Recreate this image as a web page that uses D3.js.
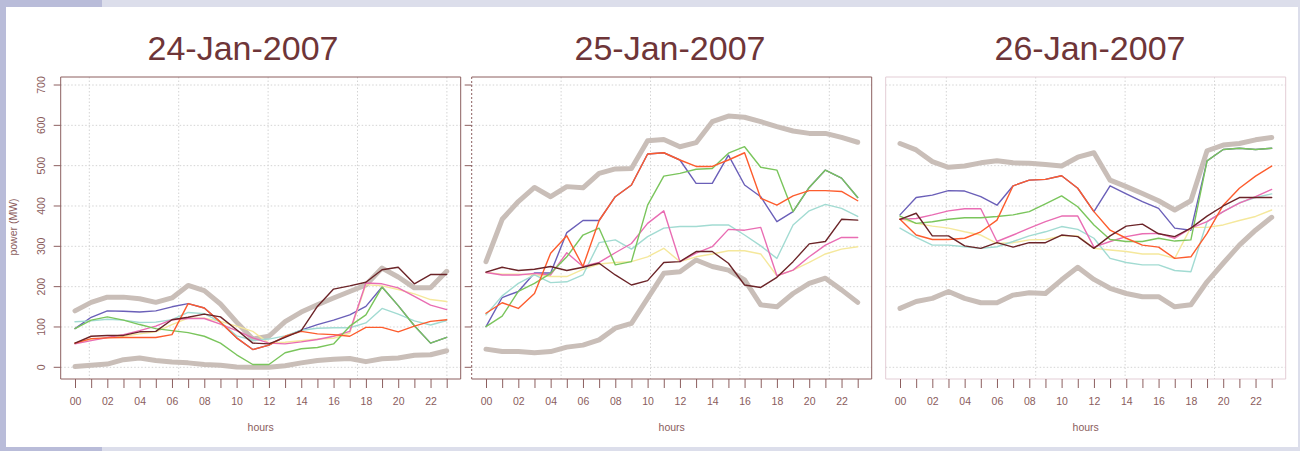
<!DOCTYPE html>
<html>
<head>
<meta charset="utf-8">
<script src="https://cdn.jsdelivr.net/npm/d3@7"></script>
<style>
  body { margin: 0; background: #dcdeeb; }
  svg { display: block; font-family: "Liberation Sans", Arial, sans-serif; }
</style>
</head>
<body>
<svg width="1300" height="451"></svg>
<script>
// hours of the day and labels
var hours = [0,1,2,3,4,5,6,7,8,9,10,11,12,13,14,15,16,17,18,19,20,21,22,23];
var hourLabels = ["00","02","04","06","08","10","12","14","16","18","20","22"];
var powerTicks = [0,100,200,300,400,500,600,700];
var days = ["24-Jan-2007", "25-Jan-2007", "26-Jan-2007"];

// 24-Jan-2007
var high24   = [140,161,174,174,170,161,172,203,190,157,112,70,77,113,137,155,172,188,204,246,224,197,197,238];
var low24    = [2,5,8,19,23,17,13,11,7,5,1,0,0,4,11,17,20,22,14,21,23,30,31,41];
var blue24   = [96,124,140,139,137,140,150,158,147,112,73,44,55,76,92,106,117,130,151,199,153,103,60,74];
var yellow24 = [60,69,73,77,83,88,106,122,122,114,102,89,60,62,66,70,72,85,205,202,193,182,168,163];
var cyan24   = [113,115,119,117,111,112,118,136,133,112,78,67,70,78,92,97,98,98,110,146,132,115,105,116];
var pink24   = [58,66,74,81,91,102,118,121,121,107,91,73,60,58,63,69,77,89,209,207,197,176,154,143];
var green24  = [96,117,125,117,106,96,91,86,77,60,31,7,7,36,46,49,58,102,130,199,153,103,60,74];
var orange24 = [60,71,73,74,74,74,81,158,147,112,73,44,55,77,89,83,81,77,99,99,88,102,114,118];
var dark24   = [60,77,79,79,88,89,118,124,132,125,93,60,58,74,91,151,194,202,211,242,248,207,230,230];

// 25-Jan-2007
var high25   = [262,367,411,446,423,448,445,481,492,493,562,565,547,557,609,623,620,609,597,586,580,580,570,558];
var low25    = [45,39,39,36,39,50,55,68,97,109,171,233,237,266,250,241,217,155,150,183,208,221,192,161];
var blue25   = [101,173,188,234,234,334,364,364,423,452,529,532,514,456,456,526,452,423,361,386,446,489,469,421];
var yellow25 = [235,231,231,229,225,225,243,256,260,262,274,295,262,274,281,289,289,281,227,241,260,281,293,299];
var cyan25   = [130,177,208,229,210,212,229,309,316,293,324,345,349,349,353,353,328,301,270,353,388,404,394,374];
var pink25   = [235,229,229,233,229,284,250,260,284,307,357,388,262,283,299,342,340,347,227,241,274,303,322,322];
var green25  = [101,127,188,208,233,274,328,345,254,262,402,474,481,491,493,531,547,496,489,386,446,489,469,421];
var orange25 = [134,160,146,183,283,326,250,364,423,452,529,532,514,498,498,514,532,419,402,425,438,438,436,413];
var dark25   = [236,248,240,243,250,240,248,258,229,204,215,260,262,287,287,258,204,198,223,262,306,312,367,365];

// 26-Jan-2007
var high26   = [555,539,510,496,499,507,512,507,506,503,499,521,532,464,448,431,413,390,413,537,551,555,564,570];
var low26    = [146,163,171,188,171,160,160,179,185,183,217,248,218,196,183,175,175,150,155,212,258,303,340,372];
var blue26   = [378,421,427,438,437,423,402,450,464,466,475,444,386,450,430,411,394,345,340,512,540,543,540,543];
var yellow26 = [369,357,350,345,336,328,307,309,316,317,326,326,295,291,287,281,281,270,347,347,353,364,374,390];
var cyan26   = [345,322,303,303,299,295,299,312,326,336,349,342,320,270,260,254,254,240,237,361,386,408,421,430];
var pink26   = [367,369,378,388,393,393,312,328,345,361,375,375,298,312,324,331,332,320,345,361,386,407,423,441];
var green26  = [375,357,361,367,371,371,374,378,386,405,425,398,353,317,312,312,320,313,316,512,540,543,540,543];
var orange26 = [367,328,317,317,320,336,365,450,464,466,475,444,386,340,320,303,298,270,274,332,402,444,474,499];
var dark26   = [367,382,326,326,301,295,309,298,309,309,328,324,295,326,350,355,331,324,345,375,400,421,421,421];

// drawing order, bottom to top
var seriesKeys = ["high", "low", "blue", "yellow", "cyan", "pink", "green", "orange", "dark"];
var seriesColors = {
  high: "#c9beb8", low: "#c9beb8", blue: "#6a5fb8", yellow: "#f5e89c", cyan: "#a2dbd2",
  pink: "#e96db3", green: "#7ac55c", orange: "#fd5c2d", dark: "#6b2428"
};

var panels = [
  {high: high24, low: low24, blue: blue24, yellow: yellow24, cyan: cyan24, pink: pink24, green: green24, orange: orange24, dark: dark24},
  {high: high25, low: low25, blue: blue25, yellow: yellow25, cyan: cyan25, pink: pink25, green: green25, orange: orange25, dark: dark25},
  {high: high26, low: low26, blue: blue26, yellow: yellow26, cyan: cyan26, pink: pink26, green: green26, orange: orange26, dark: dark26}
];

var svg = d3.select("svg");

// frame around the page
svg.append("rect").attr("width", 1300).attr("height", 451).attr("fill", "#dcdeeb");
svg.append("rect").attr("width", 102).attr("height", 7).attr("fill", "#b9bcd9");
svg.append("rect").attr("width", 6).attr("height", 451).attr("fill", "#b9bcd9");
svg.append("rect").attr("y", 447).attr("width", 102).attr("height", 4).attr("fill", "#b9bcd9");
svg.append("rect").attr("x", 6).attr("y", 7).attr("width", 1292).attr("height", 440).attr("fill", "#fff");

var boxColor = ["#8c5f5f", "#8c5f5f", "#e3cdd5"];
var boxLeft = [60.7, 471.7, 885.7];
var boxTop = 77, boxW = 400, boxH = 302;
var gridOffset = [28.6, 0, 60.6]; // the dotted verticals don't sit on the hours
var titleX = [243, 670, 1090];

var y = d3.scaleLinear().domain([0, 700]).range([367.3, 85]);

panels.forEach(function(data, p) {
  var left = boxLeft[p];
  var x = d3.scaleLinear().domain([0, 23]).range([left + 14.3, left + 14.3 + 371.7]);
  var g = svg.append("g");

  // grid
  powerTicks.forEach(function(v) {
    g.append("line")
      .attr("x1", left).attr("x2", left + boxW)
      .attr("y1", y(v)).attr("y2", y(v))
      .attr("stroke", "#d4d4d4").attr("stroke-dasharray", "1.5,2");
  });
  for (var gx = left + gridOffset[p]; gx < left + boxW; gx += 89.4) {
    if (gx == left) continue; // that one is drawn with the box
    g.append("line")
      .attr("x1", gx).attr("x2", gx)
      .attr("y1", boxTop).attr("y2", boxTop + boxH)
      .attr("stroke", "#d4d4d4").attr("stroke-dasharray", "1.5,2");
  }

  // lines
  var line = d3.line()
    .x(function(d, i) { return x(hours[i]); })
    .y(function(d) { return y(d); });

  seriesKeys.forEach(function(k) {
    var thick = (k == "high" || k == "low");
    g.append("path")
      .attr("d", line(data[k]))
      .attr("fill", "none")
      .attr("stroke", seriesColors[k])
      .attr("stroke-width", thick ? 5 : 1.4)
      .attr("stroke-linecap", "round")
      .attr("stroke-linejoin", "round");
  });

  // box, side by side (the middle one has a dotted left edge)
  var r = left + boxW, b = boxTop + boxH;
  [[left, boxTop, r, boxTop], [r, boxTop, r, b], [left, b, r, b], [left, boxTop, left, b]].forEach(function(s, i) {
    g.append("line")
      .attr("x1", s[0]).attr("y1", s[1]).attr("x2", s[2]).attr("y2", s[3])
      .attr("stroke", boxColor[p])
      .attr("stroke-dasharray", (p == 1 && i == 3) ? "2,2" : null);
  });

  // x axis
  var xAxis = g.append("g")
    .attr("transform", "translate(0," + (boxTop + boxH) + ")")
    .call(d3.axisBottom(x)
      .tickValues(hours)
      .tickSize(9)
      .tickPadding(9.5)
      .tickFormat(function(h) { return h % 2 == 0 ? hourLabels[h / 2] : ""; }));
  xAxis.select(".domain").remove();
  xAxis.selectAll("line").attr("stroke", "#8c5f5f");
  xAxis.selectAll("text").attr("fill", "#8a5c5c").style("font-size", "10.5px").style("font-family", "Liberation Sans, Arial, sans-serif");

  g.append("text")
    .attr("x", left + boxW / 2).attr("y", 431)
    .attr("text-anchor", "middle")
    .attr("fill", "#8a5c5c").style("font-size", "10.5px")
    .text("hours");

  // y ticks: first two panels only, labels only on the first
  if (p < 2) {
    powerTicks.forEach(function(v) {
      g.append("line")
        .attr("x1", left - 7).attr("x2", left)
        .attr("y1", y(v)).attr("y2", y(v))
        .attr("stroke", "#8c5f5f");
    });
  }
  if (p == 0) {
    powerTicks.forEach(function(v) {
      g.append("text")
        .attr("transform", "translate(45," + y(v) + ") rotate(-90)")
        .attr("text-anchor", "middle")
        .attr("fill", "#8a5c5c").style("font-size", "10.5px")
        .text(v);
    });
    g.append("text")
      .attr("transform", "translate(17,227) rotate(-90)")
      .attr("text-anchor", "middle")
      .attr("fill", "#8a5c5c").style("font-size", "10.5px")
      .text("power (MW)");
  }

  // title
  g.append("text")
    .attr("x", titleX[p]).attr("y", 60)
    .attr("text-anchor", "middle")
    .attr("fill", "#6e3538").style("font-size", "34px")
    .text(days[p]);
});
</script>
</body>
</html>
